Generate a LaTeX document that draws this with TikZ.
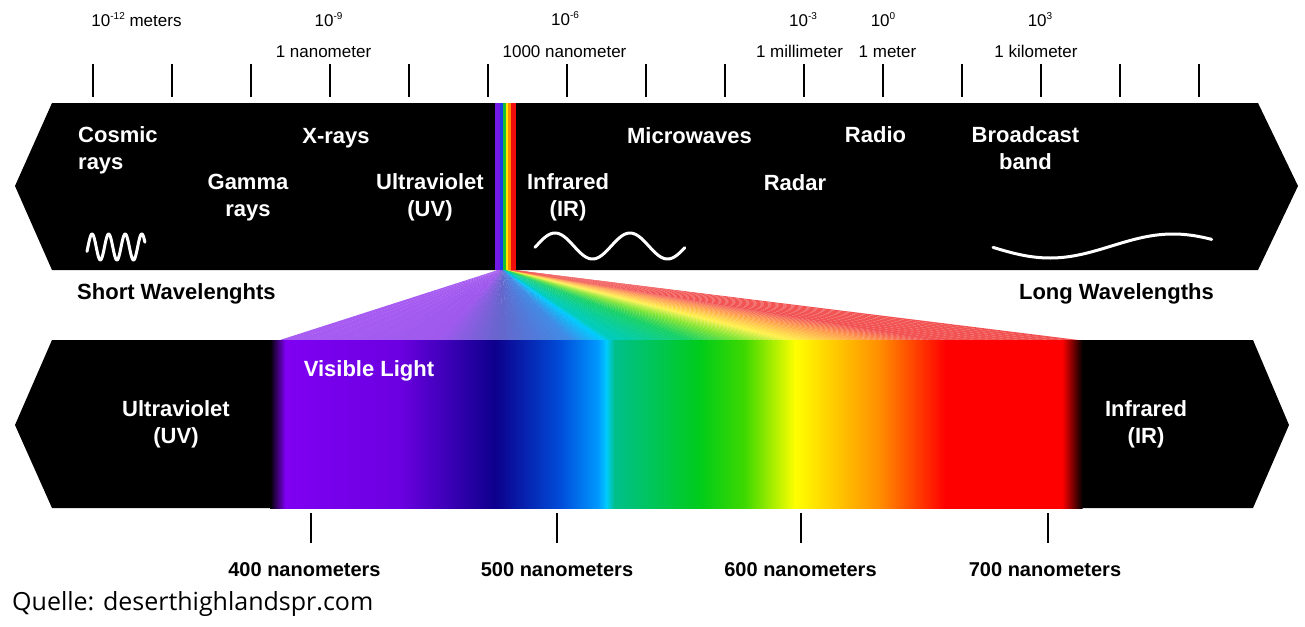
\documentclass[tikz,border=0pt]{standalone}
\usepackage{fontspec}
\setmainfont{Liberation Sans}
\newfontfamily\quellefont{Open Sans}
\newcommand\myexp[1]{\raisebox{0.42em}{\fontsize{10}{10}\selectfont #1}}
% band (dark) colours
\definecolor{b1}{rgb}{0.50,0.00,0.95}
\definecolor{b2}{rgb}{0.42,0.00,0.88}
\definecolor{b3}{rgb}{0.05,0.00,0.55}
\definecolor{b4}{rgb}{0.00,0.30,0.85}
\definecolor{b5}{rgb}{0.00,0.60,1.00}
\definecolor{b6}{rgb}{0.00,0.80,1.00}
\definecolor{b7}{rgb}{0.00,0.75,0.55}
\definecolor{b8}{rgb}{0.00,0.80,0.10}
\definecolor{b9}{rgb}{0.25,0.85,0.00}
\definecolor{b10}{rgb}{1.00,1.00,0.00}
\definecolor{b11}{rgb}{1.00,0.55,0.00}
\definecolor{b12}{rgb}{1.00,0.00,0.00}
% fan (light) colours
\definecolor{f1}{rgb}{0.66,0.36,0.95}
\definecolor{f2}{rgb}{0.62,0.35,0.93}
\definecolor{f3}{rgb}{0.40,0.40,0.80}
\definecolor{f4}{rgb}{0.25,0.55,0.90}
\definecolor{f5}{rgb}{0.00,0.80,1.00}
\definecolor{f6}{rgb}{0.00,0.80,0.75}
\definecolor{f7}{rgb}{0.10,0.82,0.40}
\definecolor{f8}{rgb}{0.50,0.90,0.20}
\definecolor{f9}{rgb}{1.00,0.95,0.30}
\definecolor{f10}{rgb}{1.00,0.60,0.30}
\definecolor{f11}{rgb}{0.95,0.33,0.33}
% strip colours
\definecolor{s1}{rgb}{0.45,0.10,0.90}
\definecolor{s2}{rgb}{0.10,0.25,0.90}
\definecolor{s3}{rgb}{0.10,0.75,0.20}
\definecolor{s4}{rgb}{1.00,0.90,0.00}
\definecolor{s5}{rgb}{1.00,0.55,0.00}
\definecolor{s6}{rgb}{0.95,0.05,0.05}
\begin{document}
\begin{tikzpicture}[x=1pt,y=-1pt,
  bandlabel/.style={text=white,font=\bfseries\fontsize{22}{26.5}\selectfont,align=center,inner sep=0pt,anchor=base},
  darklabel/.style={text=black,font=\bfseries\fontsize{22}{26}\selectfont,inner sep=0pt,anchor=base},
  nmlabel/.style={text=black,font=\bfseries\fontsize{20}{23}\selectfont,inner sep=0pt,anchor=base},
  scalelabel/.style={text=black,font=\fontsize{17}{20}\selectfont,inner sep=0pt,anchor=base},
  tickline/.style={line width=2pt},
  wave/.style={white,line width=3pt,line cap=round,line join=round},
]
\useasboundingbox (0,0) rectangle (1305,626);
\fill[white] (0,0) rectangle (1305,626);

% scale labels
\node[scalelabel] (t12) at (136.5,27) {10\myexp{-12} meters};
\node[scalelabel] (t9) at (328.5,27) {10\myexp{-9}};
\node[scalelabel] (nano) at (323.5,57) {1 nanometer};
\node[scalelabel] (t6) at (565,26) {10\myexp{-6}};
\node[scalelabel] (knano) at (564.5,57) {1000 nanometer};
\node[scalelabel] (t3n) at (803,27) {10\myexp{-3}};
\node[scalelabel] (milli) at (799.5,57) {1 millimeter};
\node[scalelabel] (t0) at (883,27) {10\myexp{0}};
\node[scalelabel] (meter) at (887.5,57) {1 meter};
\node[scalelabel] (t3) at (1040,27) {10\myexp{3}};
\node[scalelabel] (kilo) at (1036,57) {1 kilometer};

% top ticks
\foreach \k in {0,...,14} \draw[tickline] ({93+79*\k},64) -- ({93+79*\k},97);

% top band
\fill[black] (52,103) -- (1258,103) -- (1298,186) -- (1258,270) -- (52,270) -- (15,186) -- cycle;
% rainbow strip
\fill[s1] (495,103) rectangle (500.3,270);
\fill[s2] (500,103) rectangle (503.3,270);
\fill[s3] (503,103) rectangle (506.3,270);
\fill[s4] (506,103) rectangle (508.3,270);
\fill[s5] (508,103) rectangle (511.3,270);
\fill[s6] (511,103) rectangle (516,270);

% fan
\foreach \xa/\ca/\xb/\cb in {280/f1/440/f2, 440/f2/500/f3, 500/f3/570/f4, 570/f4/603/f5, 603/f5/612/f6, 612/f6/690/f7, 690/f7/740/f8, 740/f8/790/f9, 790/f9/870/f10, 870/f10/930/f11, 930/f11/1078/f11}{
  \foreach \i in {0,...,9}{
    \pgfmathsetmacro\xo{\xa+(\xb-\xa)*\i/10}
    \pgfmathsetmacro\xe{\xa+(\xb-\xa)*(\i+1)/10}
    \pgfmathsetmacro\ao{498+16*(\xo-280)/798}
    \pgfmathsetmacro\ae{498+16*(\xe-280)/798}
    \pgfmathtruncatemacro\p{10*\i+5}
    \fill[\cb!\p!\ca] (\ao,270) -- (\xo,340) -- (\xe+0.6,340) -- (\ae+0.1,270) -- cycle;
  }
}

% bottom band
\fill[black] (52,340) -- (1253,340) -- (1289,425) -- (1253,508) -- (52,508) -- (15,425) -- cycle;
\foreach \xa/\ca/\xb/\cb in {270/black/285/b1, 285/b1/400/b2, 400/b2/495/b3, 495/b3/560/b4, 560/b4/598/b5, 598/b5/606/b6, 606/b6/614/b7, 614/b7/700/b8, 700/b8/745/b9, 745/b9/795/b10, 795/b10/880/b11, 880/b11/945/b12, 945/b12/1062/b12, 1062/b12/1082/black}
  \shade[left color=\ca, right color=\cb] (\xa,340) rectangle (\xb+0.6,508);

% top band labels (base = baseline of last line)
\node[bandlabel,align=left,anchor=base west] (cosmic) at (78,169) {Cosmic\\rays};
\node[bandlabel] (xrays) at (336,143) {X-rays};
\node[bandlabel] (gamma) at (248,216) {Gamma\\rays};
\node[bandlabel] (uvtop) at (430,216) {Ultraviolet\\(UV)};
\node[bandlabel] (irtop) at (568,216) {Infrared\\(IR)};
\node[bandlabel] (micro) at (689.5,143) {Microwaves};
\node[bandlabel] (radar) at (795,190) {Radar};
\node[bandlabel] (radio) at (875.5,142) {Radio};
\node[bandlabel] (bcast) at (1025.5,169) {Broadcast\\band};

% waves
\draw[wave] plot[domain=0:1,samples=120] ({87+58*\x},{247-13*sin(\x*3.5*360-20)});
\draw[wave] plot[domain=0:1,samples=100] ({535+150*\x},{246-13*cos(4.8*(150*\x-20))});
\draw[wave] plot[domain=0:1,samples=100] ({993+219*\x},{246+12*cos(1.4634*(219*\x-57))});

% wavelength side labels
\node[darklabel,anchor=base west] (short) at (77,299) {Short Wavelenghts};
\node[darklabel,anchor=base east] (long) at (1214,299) {Long Wavelengths};

% bottom band labels
\node[bandlabel] (visible) at (369,376) {Visible Light};
\node[bandlabel] (uvbot) at (176,443) {Ultraviolet\\(UV)};
\node[bandlabel] (irbot) at (1146,443) {Infrared\\(IR)};

% bottom ticks and labels
\foreach \x in {311,557,801,1048} \draw[tickline] (\x,513) -- (\x,543);
\node[nmlabel] (nm400) at (304.5,576) {400 nanometers};
\node[nmlabel] (nm500) at (557,576) {500 nanometers};
\node[nmlabel] (nm600) at (800.5,576) {600 nanometers};
\node[nmlabel] (nm700) at (1045,576) {700 nanometers};

\node[anchor=base west,inner sep=0pt,font=\quellefont\fontsize{25}{29}\selectfont] (src) at (12,610) {Quelle: deserthighlandspr.com};
\end{tikzpicture}
\end{document}
